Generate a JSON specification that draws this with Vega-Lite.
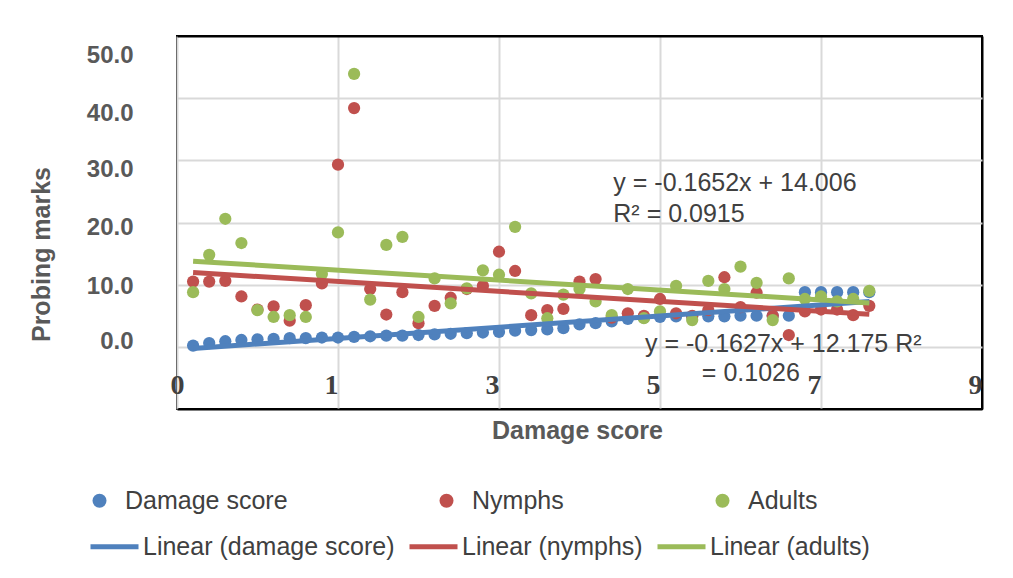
{
"$schema":"https://vega.github.io/schema/vega-lite/v6.json",
"width":805,"height":373,
"autosize":{"type":"none"},
"padding":{"left":177,"top":36,"right":31,"bottom":169},
"background":"white",
"config":{"view":{"stroke":"black","strokeWidth":2},"font":"Liberation Sans"},
"data":{"values":[
{"i":1,"s":"Damage score","t":"Linear (damage score)","v":0.2},
{"i":2,"s":"Damage score","t":"Linear (damage score)","v":0.6},
{"i":3,"s":"Damage score","t":"Linear (damage score)","v":0.9},
{"i":4,"s":"Damage score","t":"Linear (damage score)","v":1.1},
{"i":5,"s":"Damage score","t":"Linear (damage score)","v":1.2},
{"i":6,"s":"Damage score","t":"Linear (damage score)","v":1.3},
{"i":7,"s":"Damage score","t":"Linear (damage score)","v":1.4},
{"i":8,"s":"Damage score","t":"Linear (damage score)","v":1.4},
{"i":9,"s":"Damage score","t":"Linear (damage score)","v":1.5},
{"i":10,"s":"Damage score","t":"Linear (damage score)","v":1.5},
{"i":11,"s":"Damage score","t":"Linear (damage score)","v":1.6},
{"i":12,"s":"Damage score","t":"Linear (damage score)","v":1.7},
{"i":13,"s":"Damage score","t":"Linear (damage score)","v":1.8},
{"i":14,"s":"Damage score","t":"Linear (damage score)","v":1.8},
{"i":15,"s":"Damage score","t":"Linear (damage score)","v":1.9},
{"i":16,"s":"Damage score","t":"Linear (damage score)","v":2.0},
{"i":17,"s":"Damage score","t":"Linear (damage score)","v":2.1},
{"i":18,"s":"Damage score","t":"Linear (damage score)","v":2.2},
{"i":19,"s":"Damage score","t":"Linear (damage score)","v":2.3},
{"i":20,"s":"Damage score","t":"Linear (damage score)","v":2.4},
{"i":21,"s":"Damage score","t":"Linear (damage score)","v":2.6},
{"i":22,"s":"Damage score","t":"Linear (damage score)","v":2.7},
{"i":23,"s":"Damage score","t":"Linear (damage score)","v":2.8},
{"i":24,"s":"Damage score","t":"Linear (damage score)","v":3.0},
{"i":25,"s":"Damage score","t":"Linear (damage score)","v":3.6},
{"i":26,"s":"Damage score","t":"Linear (damage score)","v":3.8},
{"i":27,"s":"Damage score","t":"Linear (damage score)","v":4.1},
{"i":28,"s":"Damage score","t":"Linear (damage score)","v":4.5},
{"i":29,"s":"Damage score","t":"Linear (damage score)","v":4.7},
{"i":30,"s":"Damage score","t":"Linear (damage score)","v":4.8},
{"i":31,"s":"Damage score","t":"Linear (damage score)","v":4.9},
{"i":32,"s":"Damage score","t":"Linear (damage score)","v":4.9},
{"i":33,"s":"Damage score","t":"Linear (damage score)","v":4.9},
{"i":34,"s":"Damage score","t":"Linear (damage score)","v":4.9},
{"i":35,"s":"Damage score","t":"Linear (damage score)","v":5.0},
{"i":36,"s":"Damage score","t":"Linear (damage score)","v":5.0},
{"i":37,"s":"Damage score","t":"Linear (damage score)","v":5.0},
{"i":38,"s":"Damage score","t":"Linear (damage score)","v":5.0},
{"i":39,"s":"Damage score","t":"Linear (damage score)","v":8.8},
{"i":40,"s":"Damage score","t":"Linear (damage score)","v":8.8},
{"i":41,"s":"Damage score","t":"Linear (damage score)","v":8.8},
{"i":42,"s":"Damage score","t":"Linear (damage score)","v":8.8},
{"i":43,"s":"Damage score","t":"Linear (damage score)","v":8.8},
{"i":1,"s":"Nymphs","t":"Linear (nymphs)","v":10.5},
{"i":2,"s":"Nymphs","t":"Linear (nymphs)","v":10.5},
{"i":3,"s":"Nymphs","t":"Linear (nymphs)","v":10.6},
{"i":4,"s":"Nymphs","t":"Linear (nymphs)","v":8.1},
{"i":5,"s":"Nymphs","t":"Linear (nymphs)","v":6.0},
{"i":6,"s":"Nymphs","t":"Linear (nymphs)","v":6.5},
{"i":7,"s":"Nymphs","t":"Linear (nymphs)","v":4.2},
{"i":8,"s":"Nymphs","t":"Linear (nymphs)","v":6.7},
{"i":9,"s":"Nymphs","t":"Linear (nymphs)","v":10.2},
{"i":10,"s":"Nymphs","t":"Linear (nymphs)","v":29.3},
{"i":11,"s":"Nymphs","t":"Linear (nymphs)","v":38.4},
{"i":12,"s":"Nymphs","t":"Linear (nymphs)","v":9.3},
{"i":13,"s":"Nymphs","t":"Linear (nymphs)","v":5.2},
{"i":14,"s":"Nymphs","t":"Linear (nymphs)","v":8.8},
{"i":15,"s":"Nymphs","t":"Linear (nymphs)","v":3.8},
{"i":16,"s":"Nymphs","t":"Linear (nymphs)","v":6.6},
{"i":17,"s":"Nymphs","t":"Linear (nymphs)","v":7.9},
{"i":18,"s":"Nymphs","t":"Linear (nymphs)","v":9.3},
{"i":19,"s":"Nymphs","t":"Linear (nymphs)","v":9.8},
{"i":20,"s":"Nymphs","t":"Linear (nymphs)","v":15.3},
{"i":21,"s":"Nymphs","t":"Linear (nymphs)","v":12.2},
{"i":22,"s":"Nymphs","t":"Linear (nymphs)","v":5.1},
{"i":23,"s":"Nymphs","t":"Linear (nymphs)","v":5.9},
{"i":24,"s":"Nymphs","t":"Linear (nymphs)","v":6.1},
{"i":25,"s":"Nymphs","t":"Linear (nymphs)","v":10.5},
{"i":26,"s":"Nymphs","t":"Linear (nymphs)","v":10.9},
{"i":27,"s":"Nymphs","t":"Linear (nymphs)","v":4.7},
{"i":28,"s":"Nymphs","t":"Linear (nymphs)","v":5.4},
{"i":29,"s":"Nymphs","t":"Linear (nymphs)","v":5.0},
{"i":30,"s":"Nymphs","t":"Linear (nymphs)","v":7.7},
{"i":31,"s":"Nymphs","t":"Linear (nymphs)","v":5.4},
{"i":32,"s":"Nymphs","t":"Linear (nymphs)","v":5.0},
{"i":33,"s":"Nymphs","t":"Linear (nymphs)","v":5.9},
{"i":34,"s":"Nymphs","t":"Linear (nymphs)","v":11.2},
{"i":35,"s":"Nymphs","t":"Linear (nymphs)","v":6.4},
{"i":36,"s":"Nymphs","t":"Linear (nymphs)","v":8.7},
{"i":37,"s":"Nymphs","t":"Linear (nymphs)","v":5.0},
{"i":38,"s":"Nymphs","t":"Linear (nymphs)","v":1.9},
{"i":39,"s":"Nymphs","t":"Linear (nymphs)","v":5.7},
{"i":40,"s":"Nymphs","t":"Linear (nymphs)","v":6.0},
{"i":41,"s":"Nymphs","t":"Linear (nymphs)","v":6.0},
{"i":42,"s":"Nymphs","t":"Linear (nymphs)","v":5.1},
{"i":43,"s":"Nymphs","t":"Linear (nymphs)","v":6.6},
{"i":1,"s":"Adults","t":"Linear (adults)","v":8.8},
{"i":2,"s":"Adults","t":"Linear (adults)","v":14.8},
{"i":3,"s":"Adults","t":"Linear (adults)","v":20.6},
{"i":4,"s":"Adults","t":"Linear (adults)","v":16.7},
{"i":5,"s":"Adults","t":"Linear (adults)","v":5.9},
{"i":6,"s":"Adults","t":"Linear (adults)","v":4.8},
{"i":7,"s":"Adults","t":"Linear (adults)","v":5.1},
{"i":8,"s":"Adults","t":"Linear (adults)","v":4.8},
{"i":9,"s":"Adults","t":"Linear (adults)","v":11.7},
{"i":10,"s":"Adults","t":"Linear (adults)","v":18.4},
{"i":11,"s":"Adults","t":"Linear (adults)","v":43.9},
{"i":12,"s":"Adults","t":"Linear (adults)","v":7.6},
{"i":13,"s":"Adults","t":"Linear (adults)","v":16.4},
{"i":14,"s":"Adults","t":"Linear (adults)","v":17.7},
{"i":15,"s":"Adults","t":"Linear (adults)","v":4.8},
{"i":16,"s":"Adults","t":"Linear (adults)","v":11.0},
{"i":17,"s":"Adults","t":"Linear (adults)","v":7.0},
{"i":18,"s":"Adults","t":"Linear (adults)","v":9.4},
{"i":19,"s":"Adults","t":"Linear (adults)","v":12.3},
{"i":20,"s":"Adults","t":"Linear (adults)","v":11.6},
{"i":21,"s":"Adults","t":"Linear (adults)","v":19.3},
{"i":22,"s":"Adults","t":"Linear (adults)","v":8.6},
{"i":23,"s":"Adults","t":"Linear (adults)","v":4.6},
{"i":24,"s":"Adults","t":"Linear (adults)","v":8.4},
{"i":25,"s":"Adults","t":"Linear (adults)","v":9.3},
{"i":26,"s":"Adults","t":"Linear (adults)","v":7.3},
{"i":27,"s":"Adults","t":"Linear (adults)","v":5.1},
{"i":28,"s":"Adults","t":"Linear (adults)","v":9.3},
{"i":29,"s":"Adults","t":"Linear (adults)","v":4.6},
{"i":30,"s":"Adults","t":"Linear (adults)","v":5.7},
{"i":31,"s":"Adults","t":"Linear (adults)","v":9.8},
{"i":32,"s":"Adults","t":"Linear (adults)","v":4.3},
{"i":33,"s":"Adults","t":"Linear (adults)","v":10.6},
{"i":34,"s":"Adults","t":"Linear (adults)","v":9.3},
{"i":35,"s":"Adults","t":"Linear (adults)","v":12.9},
{"i":36,"s":"Adults","t":"Linear (adults)","v":10.3},
{"i":37,"s":"Adults","t":"Linear (adults)","v":4.3},
{"i":38,"s":"Adults","t":"Linear (adults)","v":11.0},
{"i":39,"s":"Adults","t":"Linear (adults)","v":7.7},
{"i":40,"s":"Adults","t":"Linear (adults)","v":8.1},
{"i":41,"s":"Adults","t":"Linear (adults)","v":7.3},
{"i":42,"s":"Adults","t":"Linear (adults)","v":7.7},
{"i":43,"s":"Adults","t":"Linear (adults)","v":9.0}
]},
"layer":[
{"mark":{"type":"circle","size":150,"opacity":1},
 "encoding":{
  "x":{"field":"i","type":"quantitative","scale":{"domain":[0,50],"nice":false,"zero":false},
   "axis":{"values":[0,10,20,30,40,50],"title":"Damage score","grid":true,
    "gridColor":{"condition":{"test":"datum.value == 50","value":"black"},"value":"#d9d9d9"},
    "gridWidth":2,"domain":false,"ticks":false,"tickSize":0,
    "labelExpr":"['0','1','3','5','7','9'][round(datum.value/10)]",
    "labelFont":"Liberation Serif","labelFontWeight":"bold","labelFontSize":28,"labelColor":"#404040",
    "labelAlign":{"condition":{"test":"datum.value == 0","value":"center"},"value":"right"},
    "labelBaseline":"alphabetic","labelPadding":-16,"labelFlush":false,"labelOverlap":false,
    "titleFont":"Liberation Sans","titleFontWeight":"bold","titleFontSize":25,"titleColor":"#595959",
    "titleX":400,"titleY":29,"titleBaseline":"alphabetic","titleAlign":"center"}},
  "y":{"field":"v","type":"quantitative","scale":{"domain":[-10,50],"nice":false,"zero":false},
   "axis":{"values":[-10,0,10,20,30,40,50],"title":"Probing marks","grid":true,
    "gridColor":{"condition":{"test":"datum.value == 50 || datum.value == -10","value":"black"},"value":"#d9d9d9"},
    "gridWidth":2,"domain":false,"ticks":false,"tickSize":0,
    "labelExpr":"datum.value < 0 ? '' : format(datum.value, '.1f')",
    "labelOffset":{"condition":[{"test":"datum.value == 50","value":19},{"test":"datum.value == 40","value":15},{"test":"datum.value == 30","value":9},{"test":"datum.value == 20","value":5},{"test":"datum.value == 10","value":2}],"value":-5},
    "labelFont":"Liberation Sans","labelFontWeight":"bold","labelFontSize":24,"labelColor":"#595959",
    "labelPadding":44,"labelOverlap":false,"labelFlush":false,
    "titleFont":"Liberation Sans","titleFontWeight":"bold","titleFontSize":25,"titleColor":"#595959",
    "titleX":-128,"titleY":218,"titleBaseline":"alphabetic","titleAlign":"center","titleAngle":270}},
  "fill":{"field":"s","type":"nominal",
   "scale":{"domain":["Damage score","Nymphs","Adults"],"range":["#4F81BD","#C0504D","#9BBB59"]},
   "legend":{"title":null,"orient":"none","legendX":-90,"legendY":452,"direction":"horizontal",
    "symbolType":"circle","symbolSize":196,"symbolStrokeWidth":0,"labelFontSize":25,"labelFont":"Liberation Sans",
    "labelColor":"#404040","labelOffset":13,"columnPadding":146,"labelLimit":0,"padding":0}}
 }},
{"transform":[{"regression":"v","on":"i","groupby":["t"]}],
 "mark":{"type":"line","strokeWidth":5},
 "encoding":{
  "x":{"field":"i","type":"quantitative"},
  "y":{"field":"v","type":"quantitative"},
  "stroke":{"field":"t","type":"nominal",
   "scale":{"domain":["Linear (damage score)","Linear (nymphs)","Linear (adults)"],"range":["#4F81BD","#C0504D","#9BBB59"]},
   "legend":{"title":null,"orient":"none","legendX":-89,"legendY":484,"direction":"horizontal",
    "symbolType":"stroke","symbolSize":2304,"symbolStrokeWidth":5,"labelFontSize":25,"labelFont":"Liberation Sans",
    "labelColor":"#404040","labelOffset":2,"columnPadding":4,"labelLimit":0,"padding":0}}
 }},
{"data":{"values":[{}]},
 "mark":{"type":"text","align":"left","baseline":"alphabetic","fontSize":25,"color":"#404040","lineHeight":30.5,"font":"Liberation Sans"},
 "encoding":{"x":{"datum":27.1},"y":{"datum":25.06},"text":{"value":["y = -0.1652x + 14.006","R² = 0.0915"]}}},
{"data":{"values":[{}]},
 "mark":{"type":"text","align":"left","baseline":"alphabetic","fontSize":25,"color":"#404040","font":"Liberation Sans"},
 "encoding":{"x":{"datum":29.07},"y":{"datum":-0.79},"text":{"value":"y = -0.1627x + 12.175 R²"}}},
{"data":{"values":[{}]},
 "mark":{"type":"text","align":"left","baseline":"alphabetic","fontSize":25,"color":"#404040","font":"Liberation Sans"},
 "encoding":{"x":{"datum":32.6},"y":{"datum":-5.5},"text":{"value":"= 0.1026"}}}
]
}
